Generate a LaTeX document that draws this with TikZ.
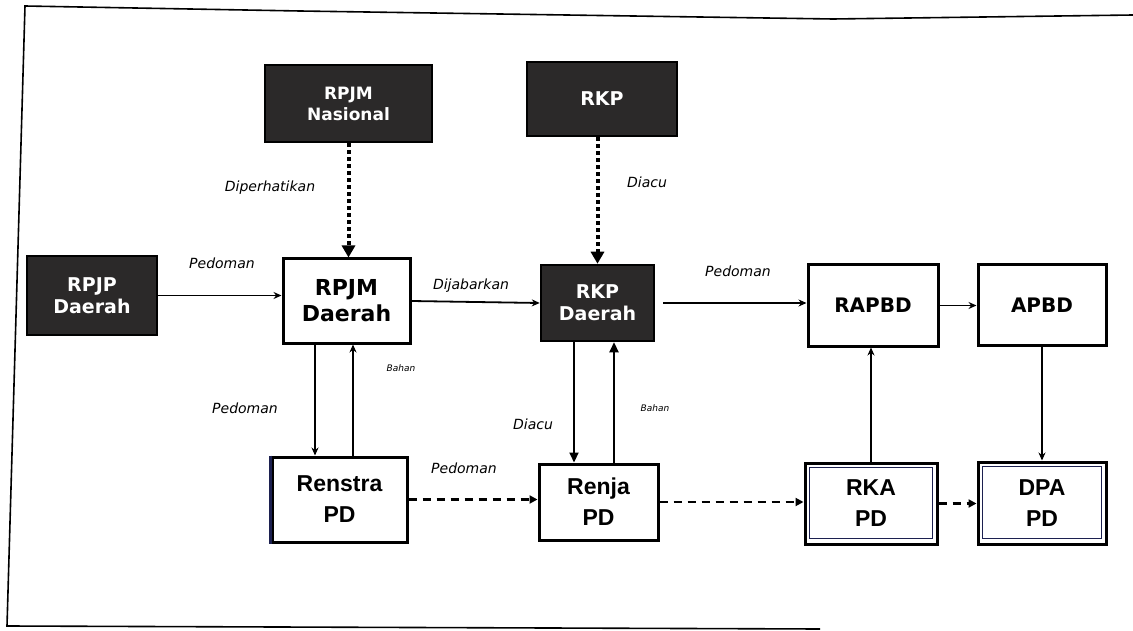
\documentclass[tikz,border=0pt]{standalone}
\usepackage{fontspec}
\setmainfont{DejaVu Sans}
\newfontfamily\libsans{Liberation Sans}
\usetikzlibrary{arrows.meta,calc}
\definecolor{boxdark}{HTML}{2B2929}
\definecolor{navyline}{HTML}{1C2050}
\begin{document}
\begin{tikzpicture}[x=1pt,y=-1pt,
  darkbox/.style={draw=black, fill=boxdark, line width=2.5pt, text=white, font=\fontsize{19}{22}\selectfont\bfseries, align=center, inner sep=0pt},
  whitebox/.style={draw=black, fill=white, line width=3pt, font=\fontsize{20}{23}\selectfont\bfseries, align=center, inner sep=0pt},
  pdbox/.style={draw=black, fill=white, line width=3pt, font=\libsans\fontsize{23}{31}\selectfont\bfseries, align=center, inner sep=0pt},
  lbl/.style={font=\fontsize{14}{16}\selectfont\itshape},
  tinylbl/.style={font=\fontsize{9}{10}\selectfont\itshape},
  arr/.style={line width=1.8pt, -{Stealth[length=8pt,width=7pt]}},
  bigarr/.style={line width=2.2pt, -{Triangle[length=10pt,width=9pt]}},
  dotarr/.style={line width=4pt, dash pattern=on 3.5pt off 3.5pt, -{Triangle[length=12pt,width=13pt]}},
  dasharr/.style={line width=2.2pt, dash pattern=on 8pt off 6pt, -{Triangle[length=8pt,width=8pt]}},
  frameline/.style={line width=1.6pt, draw=black}
]
\useasboundingbox (0,0) rectangle (1133,631);
% page frame
\draw[frameline] (1133,15) -- (833,19) -- (300,11) -- (25,6) -- (7,626) -- (820,629);

% nodes
\node[darkbox, font=\fontsize{17}{21}\selectfont\bfseries, minimum width=167pt, minimum height=77pt] (rpjmn) at (348.5,103.5) {RPJM\\Nasional};
\node[darkbox, minimum width=150pt, minimum height=74pt] (rkp) at (602,99) {RKP};
\node[darkbox, minimum width=130pt, minimum height=79pt] (rpjpd) at (92,295.5) {RPJP\\Daerah};
\node[whitebox, font=\fontsize{22}{26}\selectfont\bfseries, minimum width=127pt, minimum height=84pt] (rpjmd) at (346.5,301) {RPJM\\Daerah};
\node[darkbox, minimum width=113pt, minimum height=76pt] (rkpd) at (597.5,303) {RKP\\Daerah};
\node[whitebox, minimum width=130pt, minimum height=81pt] (rapbd) at (873,305.5) {RAPBD};
\node[whitebox, minimum width=128pt, minimum height=80pt] (apbd) at (1042,305) {APBD};
\node[pdbox, minimum width=135pt, minimum height=85pt] (renstra) at (339.5,499.5) {Renstra\\PD};
\node[pdbox, minimum width=119pt, minimum height=76pt] (renja) at (598.5,502) {Renja\\PD};
\node[pdbox, minimum width=132pt, minimum height=81pt] (rka) at (871,503.5) {RKA\\PD};
\node[pdbox, minimum width=128pt, minimum height=82pt] (dpa) at (1042,503) {DPA\\PD};

% box decorations
\draw[navyline, line width=3pt] (renstra.north west) -- (renstra.south west);
\draw[navyline, line width=1.2pt] ($(rka.north west)+(6,6)$) rectangle ($(rka.south east)+(-6,-7)$);
\draw[navyline, line width=1.2pt] ($(dpa.north west)+(6,6)$) rectangle ($(dpa.south east)+(-6,-7)$);

% connectors
\draw[dotarr] (rpjmn.south) -- (rpjmn.south |- rpjmd.north);
\draw[dotarr] (rkpd.north |- rkp.south) -- (rkpd.north);
\draw[arr] (rpjpd.east) -- (rpjpd.east -| rpjmd.west);
\draw[arr] (rpjmd.east) -- (rkpd.west);
\draw[arr] ($(rkpd.east)+(8,0)$) -- (rkpd.east -| rapbd.west);
\draw[arr] (rapbd.east) -- (rapbd.east -| apbd.west);
\coordinate (a1) at ($(rpjmd.south)+(-31.5,0)$);
\coordinate (a2) at ($(rpjmd.south)+(6.5,0)$);
\draw[arr] (a1) -- (a1 |- renstra.north);
\draw[arr] (a2 |- renstra.north) -- (a2);
\coordinate (b1) at ($(rkpd.south)+(-23.5,0)$);
\coordinate (b2) at ($(rkpd.south)+(16.5,0)$);
\draw[bigarr] (b1) -- (b1 |- renja.north);
\draw[bigarr] (b2 |- renja.north) -- (b2);
\draw[dasharr] (renstra.east) -- (renstra.east -| renja.west);
\draw[dasharr] (renja.east) -- (renja.east -| rka.west);
\draw[dasharr] (rka.east) -- (rka.east -| dpa.west);
\draw[arr] (rka.north) -- (rka.north |- rapbd.south);
\draw[arr] (apbd.south) -- (apbd.south |- dpa.north);

% labels
\node[lbl] (l1) at (270,188) {Diperhatikan};
\node[lbl] (l2) at (647,182) {Diacu};
\node[lbl] (l3) at (222,263) {Pedoman};
\node[lbl] (l4) at (471,286) {Dijabarkan};
\node[lbl] (l5) at (738,271) {Pedoman};
\node[lbl] (l6) at (245,408) {Pedoman};
\node[tinylbl] (l7) at (401,368) {Bahan};
\node[lbl] (l8) at (533,424) {Diacu};
\node[tinylbl] (l9) at (655,408) {Bahan};
\node[lbl] (l10) at (464,468) {Pedoman};
\end{tikzpicture}
\end{document}
